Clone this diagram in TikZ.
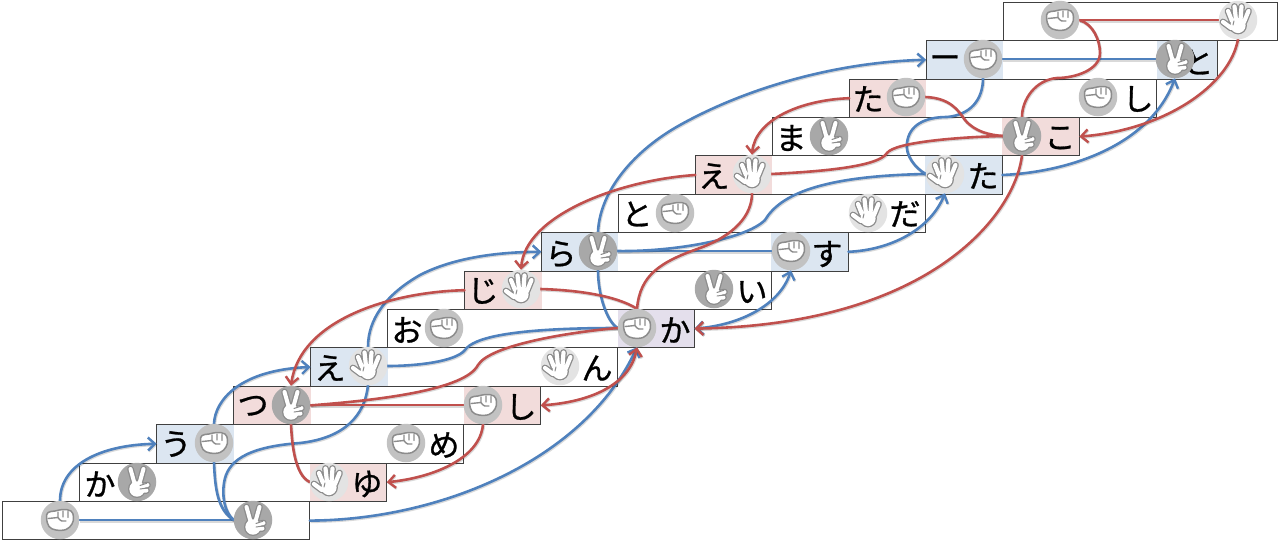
\documentclass[tikz,border=0pt]{standalone}
\usepackage{fontspec}
\newfontfamily\cjk[FakeBold=0.9]{Noto Sans CJK JP}
\usetikzlibrary{arrows.meta}
\definecolor{cblue}{HTML}{DCE6F1}
\definecolor{cpink}{HTML}{F2DCDB}
\definecolor{cpurple}{HTML}{E4DFEC}
\definecolor{lblue}{HTML}{4F81BD}
\definecolor{lred}{HTML}{C0504D}
\definecolor{glyphline}{HTML}{8C8C8C}
\tikzset{
  x=1pt,y=-1pt,
  tipb/.tip={Straight Barb[length=7pt,width=13pt,line width=2.4pt]},
  conn/.style={line width=2.6pt,line cap=round,
    preaction={draw=black,opacity=.15,line width=3pt,transform canvas={shift={(0.7pt,-1pt)}}}},
  bl/.style={conn,draw=lblue},
  rd/.style={conn,draw=lred},
  cellbox/.style={minimum width=77pt,minimum height=38.4pt,inner sep=0pt,outer sep=0pt,draw=none},
  rowbox/.style={minimum height=38.4pt,inner sep=0pt,outer sep=0pt,draw=black!75,line width=1pt,fill=none},
  kana/.style={font=\cjk\fontsize{31}{31}\selectfont,inner sep=0pt,text=black},
  icon/.style={circle,minimum size=38.5pt,inner sep=0pt,outer sep=0pt},
  fistc/.style={icon,fill=black!24},
  scic/.style={icon,fill=black!34},
  handc/.style={icon,fill=black!11},
  fistg/.pic={
    \draw[glyphline,fill=white,line width=1.5pt,line join=round]
      plot[smooth cycle,tension=.65] coordinates {(-13.5,-2) (-12,-7.5) (-5,-9) (3,-10.5) (11,-9) (13.5,-3) (12,4) (6,9.5) (-4,10) (-11,6.5)};
    \draw[glyphline,line width=1.4pt,line cap=round,line join=round]
      (-12,-1.5)--(-2,-2.5)--(-2,-8) (3,-9)--(3,-3) (8,-8.5)--(8,-2.5) (-2,-2.5) .. controls (0,1) and (3,2) .. (6,1);
  },
  handg/.pic={
    \foreach \w/\c in {6.8/glyphline,4.2/white}{
      \draw[line width=\w pt,line cap=round,draw=\c] (-7,8)--(-15,2) (-6,1)--(-10,-9) (-2,0)--(-3.5,-13.5) (2.5,0)--(3.5,-13.5) (6,2)--(10.5,-9);
      \fill[\c] (0,5.5) circle ({\w/2+5.5});
    }
    \draw[glyphline,line width=1pt,line cap=round] (-4,1) -- (-5,5);
  },
  scig/.pic={
    \foreach \w/\c in {6.6/glyphline,4/white}{
      \draw[line width=\w pt,line cap=round,draw=\c] (-2,3)--(-6.5,-13) (2,3)--(6.5,-13) (2,5)--(10.5,3) (2,9)--(9.5,8.5);
      \fill[\c] (0,7) circle ({\w/2+5.7});
    }
    \draw[glyphline,line width=1pt,line cap=round] (3,3.5)--(10,1.2) (3,7)--(10,6);
  }
}
\newcommand{\fisticon}[3]{\node[fistc] (#1) at (#2,#3) {}; \pic at (#1.center) {fistg};}
\newcommand{\handicon}[3]{\node[handc] (#1) at (#2,#3) {}; \pic at (#1.center) {handg};}
\newcommand{\sciicon}[3]{\node[scic] (#1) at (#2,#3) {}; \pic at (#1.center) {scig};}
\begin{document}
\begin{tikzpicture}
\useasboundingbox (0,0) rectangle (1280,541);
% cells and rows
\foreach \i/\wid/\lc/\rc/\rw in {0/307/white/white/77,1/307/white/cpink/77,2/307/cblue/white/77,3/307/cpink/cpink/77,
  4/307/cblue/white/77,5/307/white/cpurple/77,6/307/cpink/white/77,7/307/cblue/cblue/77,8/307/white/white/77,
  9/307/cpink/cblue/77,10/307/white/cpink/77,11/307/cpink/white/77,12/291/cblue/cblue/60,13/274/white/white/77}{
  \pgfmathsetmacro{\lft}{2.8+76.95*\i}
  \pgfmathsetmacro{\ym}{520.6-38.4*\i}
  \node[cellbox,fill=\lc] (c\i l) at ({\lft+38.5},\ym) {};
  \node[cellbox,fill=\rc,minimum width=\rw pt] (c\i r) at ({\lft+\wid-\rw/2},\ym) {};
}
\foreach \i/\wid in {0/307,1/307,2/307,3/307,4/307,5/307,6/307,7/307,8/307,9/307,10/307,11/307,12/291,13/274}{
  \pgfmathsetmacro{\lft}{2.8+76.95*\i}
  \pgfmathsetmacro{\ym}{520.6-38.4*\i}
  \node[rowbox,minimum width=\wid pt] (r\i) at ({\lft+\wid/2},\ym) {};
}
% kana
\node[kana] (t1) at (100,484) {か};
\node[kana] (t2) at (176,444) {う};
\node[kana] (t3) at (253,406) {つ};
\node[kana] (t4) at (330,368) {え};
\node[kana] (t5) at (407,330) {お};
\node[kana] (t6) at (483,291) {じ};
\node[kana] (t7) at (561,254) {ら};
\node[kana] (t8) at (637,214) {と};
\node[kana] (t9) at (714,176) {え};
\node[kana] (t10) at (791,138) {ま};
\node[kana] (t11) at (868,99) {た};
\node[kana] (t12) at (945,62) {ー};
\node[kana] (u1) at (367,484) {ゆ};
\node[kana] (u2) at (444,445) {め};
\node[kana] (u3) at (521,407) {し};
\node[kana] (u4) at (597,368) {ん};
\node[kana] (u5) at (675,330) {か};
\node[kana] (u6) at (752,292) {い};
\node[kana] (u7) at (827,254) {す};
\node[kana] (u8) at (905,214) {だ};
\node[kana] (u9) at (983,176) {た};
\node[kana] (u10) at (1060,138) {こ};
\node[kana] (u11) at (1138,99) {し};
\node[kana] (u12) at (1198,62) {と};
% icon anchors
\begin{scope}[opacity=0]
\foreach \n/\px/\py in {i0l/60/520,i0r/253/520,i1l/137/482,i1r/329/482,i2l/214/443,i2r/406/443,i3l/291/405,i3r/483/405,
  i4l/368/366,i4r/560/366,i5l/444/328,i5r/637/328,i6l/521/289,i6r/714/289,i7l/598/251,i7r/791/251,i8l/675/213,i8r/868/213,
  i9l/752/174,i9r/945/174,i10l/829/136,i10r/1022/136,i11l/906/97,i11r/1098/97,i12l/983/59,i12r/1175/59,i13l/1060/20,i13r/1238/20}{
  \node[icon] (\n) at (\px,\py) {};
}
\end{scope}
% blue connectors
\draw[bl,-{tipb}] (i0l.north) .. controls (60,465) and (100,445) .. (c2l.west);
\draw[bl] (i0l.east) -- (i0r.west);
\draw[bl] (i2l.south) .. controls (215,490) and (218,510) .. (i0r.west);
\draw[bl] (i0r.west) .. controls (224,512) and (222,495) .. (224,483) .. controls (227,462) and (245,447) .. (300,443) .. controls (345,438) and (365,415) .. (i4l.south);
\draw[bl,-{tipb}] (i2l.north) .. controls (215,400) and (240,370) .. (c4l.west);
\draw[bl,-{tipb}] (r0.east) .. controls (440,520) and (585,460) .. (i5r.south);
\draw[bl] (i4l.east) .. controls (415,366) and (455,362) .. (465,350) .. controls (473,338) and (510,328) .. (i5r.west);
\draw[bl,-{tipb}] (i4l.north) .. controls (368,320) and (385,295) .. (420,275) .. controls (455,257) and (500,252) .. (c7l.west);
\draw[bl] (i5r.west) .. controls (607,322) and (598,295) .. (i7l.south);
\draw[bl,-{tipb}] (i7l.north) .. controls (600,190) and (635,150) .. (680,125) .. controls (750,86) and (840,62) .. (c12l.west);
\draw[bl,{tipb}-{tipb}] (c5r.east) .. controls (740,325) and (780,305) .. (i7r.south);
\draw[bl] (i7l.east) -- (i7r.west);
\draw[bl] (i7l.east) .. controls (670,252) and (745,240) .. (765,220) .. controls (780,195) and (820,176) .. (i9r.west);
\draw[bl,-{tipb}] (c7r.east) .. controls (890,250) and (930,230) .. (i9r.south);
\draw[bl] (i9r.west) .. controls (915,168) and (905,155) .. (907,143) .. controls (909,125) and (925,117) .. (947,117) .. controls (970,115) and (983,100) .. (i12l.south);
\draw[bl,-{tipb}] (c9r.east) .. controls (1070,172) and (1150,145) .. (i12r.south);
\draw[bl] (i12l.east) -- (i12r.west);
% red connectors
\draw[rd] (i13l.east) -- (i13r.west);
\draw[rd] (i13l.east) .. controls (1093,24) and (1100,40) .. (1100,53) .. controls (1100,70) and (1075,78) .. (1057,78) .. controls (1035,80) and (1022,100) .. (i10r.north);
\draw[rd,-{tipb}] (i13r.south) .. controls (1230,85) and (1165,130) .. (c10r.east);
\draw[rd] (i11l.east) .. controls (950,98) and (958,110) .. (965,120) .. controls (975,132) and (990,135) .. (i10r.west);
\draw[rd] (i10r.west) .. controls (960,137) and (895,142) .. (887,153) .. controls (878,168) and (810,172) .. (i9l.east);
\draw[rd,-{tipb}] (c11l.west) .. controls (800,100) and (755,120) .. (i9l.north);
\draw[rd,-{tipb}] (c9l.west) .. controls (620,180) and (525,215) .. (i6l.north);
\draw[rd] (i9l.south) .. controls (752,215) and (735,235) .. (700,248) .. controls (660,262) and (640,275) .. (i5r.north);
\draw[rd] (i6l.east) .. controls (575,290) and (615,295) .. (i5r.north);
\draw[rd,-{tipb}] (c6l.west) .. controls (390,292) and (300,320) .. (i3l.north);
\draw[rd] (i5r.west) .. controls (570,332) and (490,345) .. (478,365) .. controls (465,390) and (380,400) .. (c3l.east);
\draw[rd] (i3l.east) -- (i3r.west);
\draw[rd] (i3l.south) .. controls (292,445) and (295,475) .. (i1r.west);
\draw[rd,-{tipb}] (i3r.south) .. controls (480,460) and (430,478) .. (c1r.east);
\draw[rd,{tipb}-{tipb}] (i5r.south) .. controls (630,385) and (590,402) .. (c3r.east);
\draw[rd,-{tipb}] (i10r.south) .. controls (1015,215) and (930,325) .. (c5r.east);
% icons
\fisticon{i0l}{60}{520}
\sciicon{i0r}{253}{520}
\sciicon{i1l}{137}{482}
\handicon{i1r}{329}{482}
\fisticon{i2l}{214}{443}
\fisticon{i2r}{406}{443}
\sciicon{i3l}{291}{405}
\fisticon{i3r}{483}{405}
\handicon{i4l}{368}{366}
\handicon{i4r}{560}{366}
\fisticon{i5l}{444}{328}
\fisticon{i5r}{637}{328}
\handicon{i6l}{521}{289}
\sciicon{i6r}{714}{289}
\sciicon{i7l}{598}{251}
\fisticon{i7r}{791}{251}
\fisticon{i8l}{675}{213}
\handicon{i8r}{868}{213}
\handicon{i9l}{752}{174}
\handicon{i9r}{945}{174}
\sciicon{i10l}{829}{136}
\sciicon{i10r}{1022}{136}
\fisticon{i11l}{906}{97}
\fisticon{i11r}{1098}{97}
\fisticon{i12l}{983}{59}
\sciicon{i12r}{1175}{59}
\fisticon{i13l}{1060}{20}
\handicon{i13r}{1238}{20}
\end{tikzpicture}
\end{document}
